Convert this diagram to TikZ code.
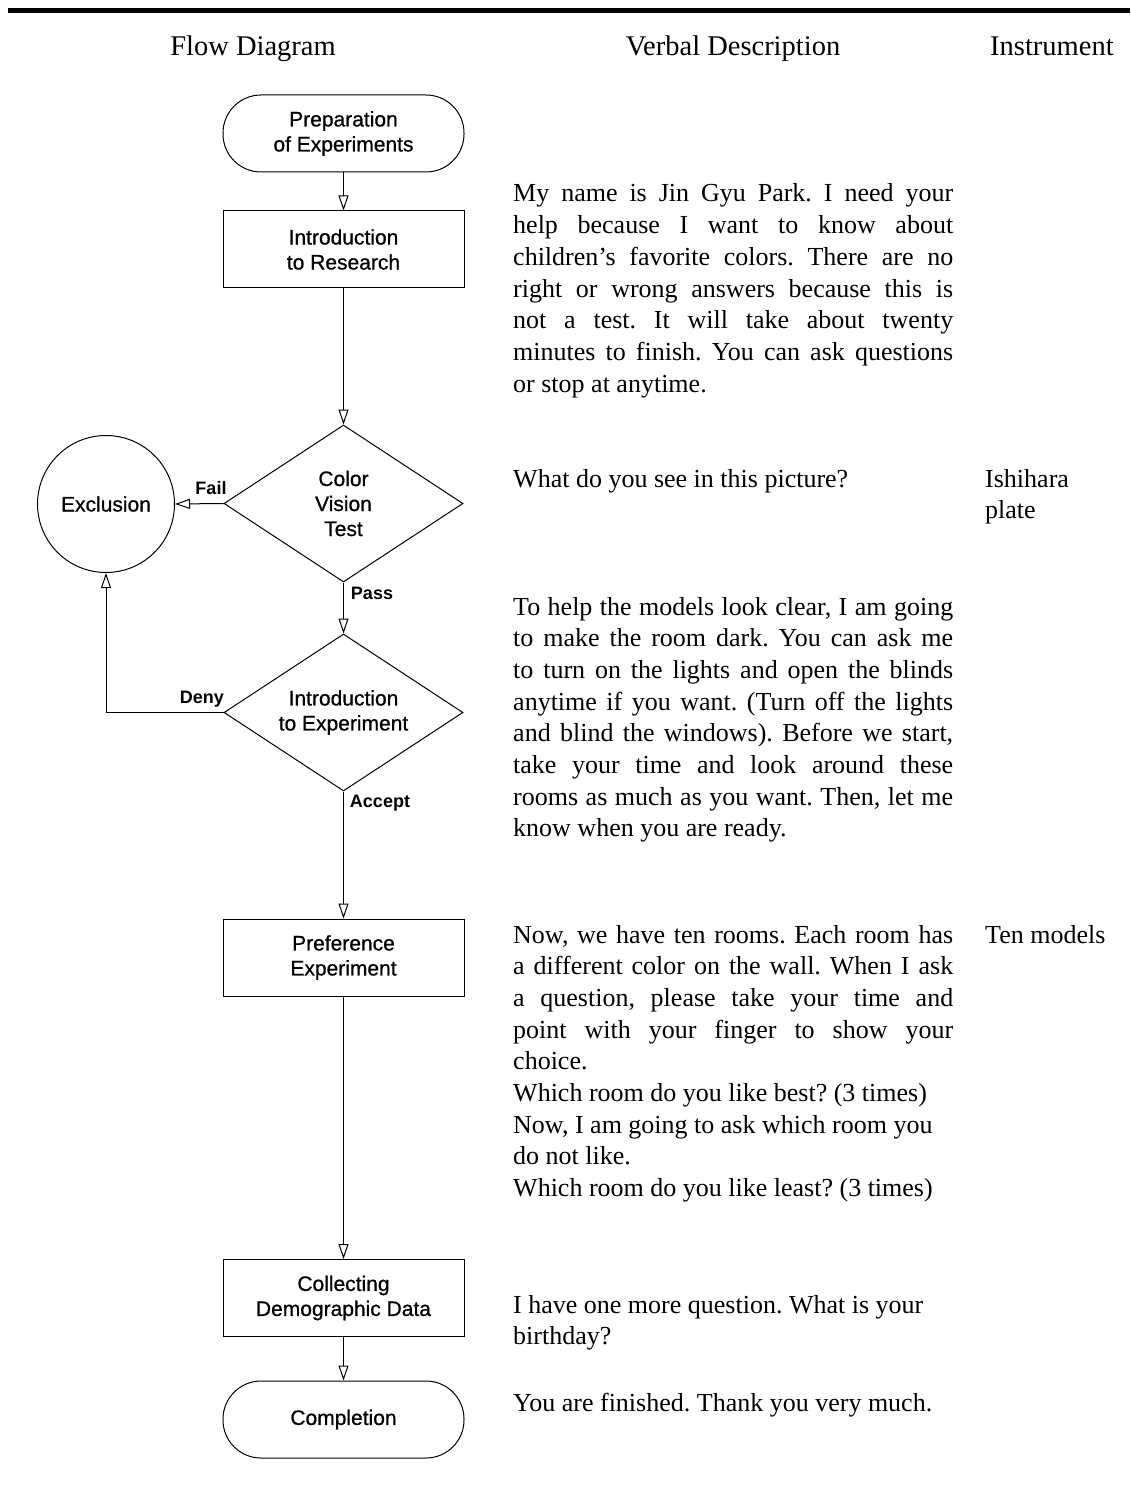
\documentclass[tikz,border=0pt]{standalone}
\usepackage{fontspec}
\setmainfont{Liberation Serif}
\newfontfamily\arialf{Liberation Sans}
\newfontfamily\arialfb[FakeBold=0.7]{Liberation Sans}
\usetikzlibrary{shapes.geometric,arrows.meta}
\newcommand\fcnode{\arialfb\fontsize{21}{25}\selectfont}
\newcommand\fclbl{\arialf\bfseries\fontsize{18}{22}\selectfont}
\newcommand\fchead{\fontsize{28.5}{34}\selectfont}
\newcommand\fcbody{\fontsize{26}{31.7}\selectfont\frenchspacing}
\newcommand\jline[1]{\hbox to 440pt{#1}}
\newcommand\lline[1]{\hbox{#1}}
\begin{document}
\begin{tikzpicture}[x=1pt,y=-1pt,
  flow/.style={draw, line width=1pt, -{Triangle[open,length=15pt,width=10pt]}},
  box/.style={draw, line width=1pt, rectangle, minimum width=241pt, minimum height=77pt, inner sep=0pt, align=center, font=\fcnode},
  term/.style={box, rounded corners=38pt},
  dec/.style={draw, line width=1pt, diamond, shape aspect=1.5, minimum width=239pt, minimum height=157pt, inner sep=0pt, align=center, font=\fcnode},
  circ/.style={draw, line width=1pt, circle, minimum size=137pt, inner sep=0pt, font=\fcnode},
  lbl/.style={inner sep=0pt, font=\fclbl},
  head/.style={inner sep=0pt, font=\fchead, anchor=base},
  body/.style={inner sep=0pt, font=\fcbody, anchor=base west}]
\useasboundingbox (0,0) rectangle (1130,1487);
\fill (8,8.3) rectangle (1130,12.8);

% headers
\node[head] (h1) at (253,56) {Flow Diagram};
\node[head] (h2) at (733,56) {Verbal Description};
\node[head, anchor=base west] (h3) at (990,56) {Instrument};

% flowchart nodes
\node[term] (prep) at (343.5,133.5) {Preparation\\of Experiments};
\node[box] (intro) at (343.5,249.5) {Introduction\\to Research};
\node[dec] (cvt) at (343.5,503.5) {Color\\Vision\\Test};
\node[circ] (excl) at (106,504) {Exclusion};
\node[dec] (iexp) at (343.5,712.5) {Introduction\\to Experiment};
\node[box] (pref) at (343.5,957.5) {Preference\\Experiment};
\node[box] (coll) at (343.5,1298) {Collecting\\Demographic Data};
\node[term] (comp) at (343.5,1419.5) {Completion};

% connectors
\draw[flow] (prep.south) -- (intro.north);
\draw[flow] (intro.south) -- (cvt.north);
\draw[flow] (cvt.west) -- (excl.east);
\draw[flow] (cvt.south) -- (iexp.north);
\draw[flow] (iexp.west) -| (excl.south);
\draw[flow] (iexp.south) -- (pref.north);
\draw[flow] (pref.south) -- (coll.north);
\draw[flow] (coll.south) -- (comp.north);

% connector labels
\node[lbl] (lfail) at (211,488) {Fail};
\node[lbl] (lpass) at (372,593) {Pass};
\node[lbl] (ldeny) at (202,699) {Deny};
\node[lbl] (lacc) at (380,803) {Accept};

% verbal descriptions
\node[body] (t1) at (513,202) {\vtop{\baselineskip=31.7pt
 \jline{My name is Jin Gyu Park. I need your}
 \jline{help because I want to know about}
 \jline{children’s favorite colors. There are no}
 \jline{right or wrong answers because this is}
 \jline{not a test. It will take about twenty}
 \jline{minutes to finish. You can ask questions}
 \lline{or stop at anytime.}}};
\node[body] (t2) at (513,487) {What do you see in this picture?};
\node[body] (t3) at (513,615) {\vtop{\baselineskip=31.7pt
 \jline{To help the models look clear, I am going}
 \jline{to make the room dark. You can ask me}
 \jline{to turn on the lights and open the blinds}
 \jline{anytime if you want. (Turn off the lights}
 \jline{and blind the windows). Before we start,}
 \jline{take your time and look around these}
 \jline{rooms as much as you want. Then, let me}
 \lline{know when you are ready.}}};
\node[body] (t4) at (513,943) {\vtop{\baselineskip=31.7pt
 \jline{Now, we have ten rooms. Each room has}
 \jline{a different color on the wall. When I ask}
 \jline{a question, please take your time and}
 \jline{point with your finger to show your}
 \lline{choice.}
 \lline{Which room do you like best? (3 times)}
 \lline{Now, I am going to ask which room you}
 \lline{do not like.}
 \lline{Which room do you like least? (3 times)}}};
\node[body] (t5) at (513,1313) {\vtop{\baselineskip=31.7pt
 \lline{I have one more question. What is your}
 \lline{birthday?}}};
\node[body] (t6) at (513,1411) {You are finished. Thank you very much.};

% instruments
\node[body] (i1) at (985,487) {\vtop{\baselineskip=31.7pt
 \lline{Ishihara}
 \lline{plate}}};
\node[body] (i2) at (985,943) {Ten models};
\end{tikzpicture}
\end{document}
